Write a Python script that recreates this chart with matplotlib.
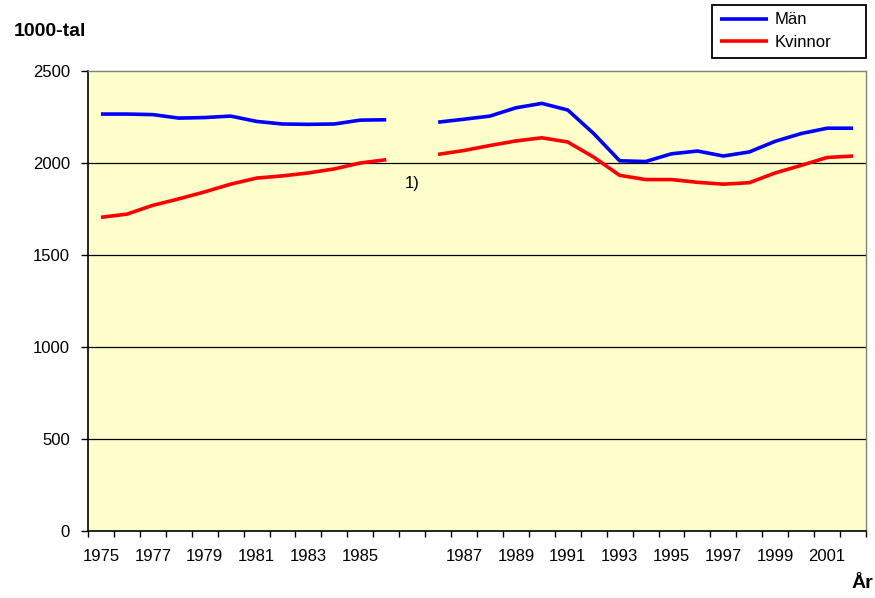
import numpy as np
import matplotlib
matplotlib.use("Agg")
import matplotlib.pyplot as plt

plt.rcParams['font.family'] = ['Liberation Sans', 'DejaVu Sans']

# categories (one blank slot between the two 1986 values, series break)
categories = ['1975', '1976', '1977', '1978', '1979', '1980', '1981', '1982',
              '1983', '1984', '1985', '1986', '', '1986', '1987', '1988',
              '1989', '1990', '1991', '1992', '1993', '1994', '1995', '1996',
              '1997', '1998', '1999', '2000', '2001', '2002']
man = [2266, 2266, 2263, 2244, 2247, 2255, 2226, 2212, 2210, 2212, 2233, 2235,
       np.nan, 2222, 2238, 2255, 2300, 2324, 2288, 2160, 2012, 2008, 2050,
       2065, 2038, 2060, 2118, 2160, 2189, 2189]
kvinnor = [1705, 1722, 1770, 1805, 1843, 1885, 1918, 1930, 1946, 1968, 2000,
           2018, np.nan, 2047, 2068, 2095, 2120, 2137, 2114, 2032, 1933, 1910,
           1910, 1895, 1885, 1893, 1946, 1987, 2030, 2038]
yticks = [0, 500, 1000, 1500, 2000, 2500]

fig = plt.figure(figsize=(8.75, 5.98), dpi=100)
ax = fig.add_axes([88 / 875, 1 - 531 / 598, 778 / 875, 460 / 598])
ax.set_facecolor('#FFFFCC')

xs = np.arange(len(categories)) + 0.5
ax.plot(xs, man, color='#0000FF', lw=2.6, label='Män', solid_capstyle='butt')
ax.plot(xs, kvinnor, color='#FF0000', lw=2.6, label='Kvinnor',
        solid_capstyle='butt')

ax.set_xlim(0, len(categories))
ax.set_ylim(0, 2500)

# y axis
ax.set_yticks(yticks)
ax.set_yticklabels([str(v) for v in yticks], fontsize=12)
ax.tick_params(axis='y', direction='out', length=5, width=1, pad=8)
for v in yticks[1:-1]:
    ax.axhline(v, color='black', lw=0.9, zorder=1)

# x axis: ticks at category boundaries, labels every other category
ax.set_xticks(np.arange(len(categories) + 1))
ax.set_xticklabels([])
ax.tick_params(axis='x', which='major', direction='out', length=4, width=1)
ax.set_xticks(xs[::2], minor=True)
ax.set_xticklabels(categories[::2], minor=True, fontsize=12)
ax.tick_params(axis='x', which='minor', length=0, pad=13)

for s in ['top', 'right']:
    ax.spines[s].set_color('#808080')
    ax.spines[s].set_linewidth(1)
for s in ['left', 'bottom']:
    ax.spines[s].set_color('black')
    ax.spines[s].set_linewidth(1.2)

ax.text(12.5, 1890, '1)', ha='center', va='center', fontsize=12)

fig.text(50 / 875, 1 - 32 / 598, '1000-tal', ha='center', va='center',
         fontsize=14, fontweight='bold')
fig.text(862 / 875, 1 - 584 / 598, 'År', ha='center', va='center',
         fontsize=14, fontweight='bold')

leg = ax.legend(loc='upper left', bbox_to_anchor=(712 / 875, 1 - 5 / 598, 154 / 875, 0),
                bbox_transform=fig.transFigure, mode='expand', fontsize=12,
                fancybox=False, framealpha=1, edgecolor='black',
                handlelength=2.9, handletextpad=0.4, labelspacing=0.45,
                borderpad=0.45, borderaxespad=0)
leg.get_frame().set_linewidth(1.3)

fig.savefig('out.png', dpi=100, facecolor='white')
